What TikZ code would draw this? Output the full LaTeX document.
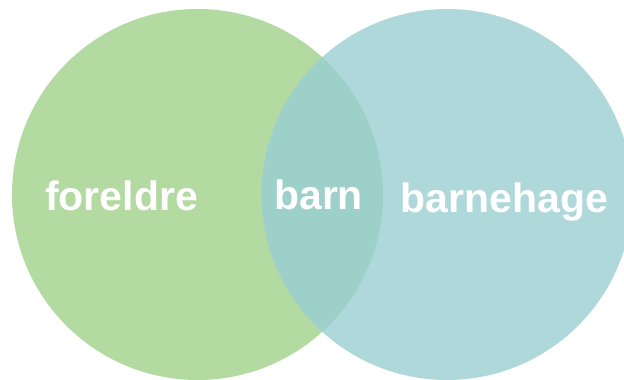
\documentclass[tikz,border=0pt]{standalone}
\usepackage{fontspec}
\setmainfont{Liberation Sans}
\definecolor{greenc}{RGB}{179,218,161}
\definecolor{bluec}{RGB}{175,216,219}
\definecolor{overlapc}{RGB}{157,208,200}
\begin{document}
\begin{tikzpicture}[x=1pt,y=1pt,
  lbl/.style={text=white,font=\fontsize{41}{41}\selectfont\bfseries,inner sep=0pt,anchor=base west}]
\useasboundingbox (0,0) rectangle (624,380);
\clip (0,0) rectangle (624,380);
\fill[greenc] (197.5,185.5) circle (185.5);
\fill[bluec] (447,185.5) circle (185.5);
\begin{scope}
  \clip (197.5,185.5) circle (185.5);
  \fill[overlapc] (447,185.5) circle (185.5);
\end{scope}
\node[lbl] (foreldre) at (45,169) {foreldre};
\node[lbl] (barn) at (274,170) {barn};
\node[lbl] (barnehage) at (400.5,167.5) {barnehage};
\end{tikzpicture}
\end{document}
